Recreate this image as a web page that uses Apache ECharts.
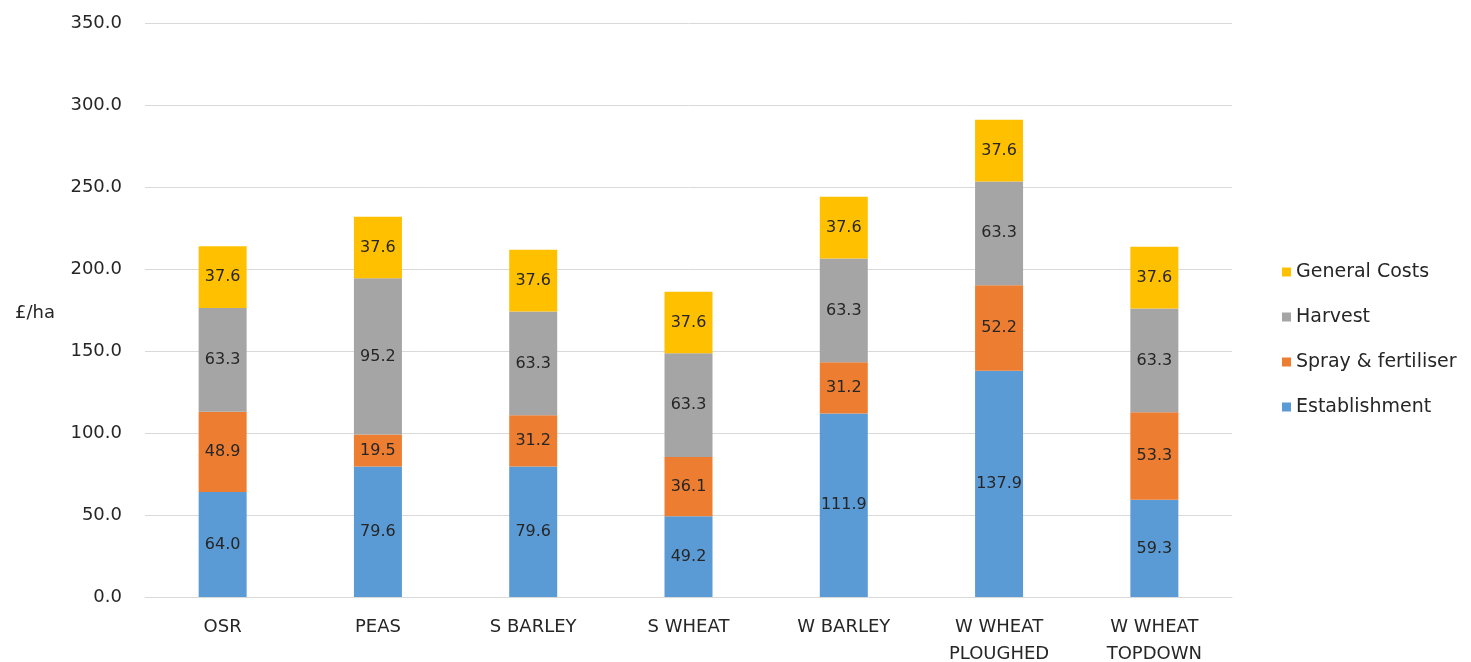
<!DOCTYPE html>
<html>
<head>
<meta charset="utf-8">
<script src="https://cdn.jsdelivr.net/npm/echarts@6/dist/echarts.min.js"></script>
<style>html,body{margin:0;padding:0;background:#fff;}#c{width:1471px;height:662px;}</style>
</head>
<body>
<div id="c"></div>
<script>
const categories = ['OSR', 'PEAS', 'S BARLEY', 'S WHEAT', 'W BARLEY', 'W WHEAT\nPLOUGHED', 'W WHEAT\nTOPDOWN'];
const establishment = [64.0, 79.6, 79.6, 49.2, 111.9, 137.9, 59.3];
const sprayFertiliser = [48.9, 19.5, 31.2, 36.1, 31.2, 52.2, 53.3];
const harvest = [63.3, 95.2, 63.3, 63.3, 63.3, 63.3, 63.3];
const generalCosts = [37.6, 37.6, 37.6, 37.6, 37.6, 37.6, 37.6];
const yTicks = [0, 50, 100, 150, 200, 250, 300, 350];

const FONT = '"DejaVu Sans", sans-serif';
const TXT = '#262626';
const chart = echarts.init(document.getElementById('c'), null, {renderer: 'canvas'});
const mk = (name, data, color) => ({
  name, type: 'bar', stack: 'total', data, barWidth: 48,
  itemStyle: {color},
  label: {show: true, position: 'inside', color: TXT, fontSize: 16, fontFamily: FONT,
          formatter: p => p.value.toFixed(1)}
});
chart.setOption({
  animation: false,
  backgroundColor: '#fff',
  title: {text: '£/ha', left: 10, top: 299, textStyle: {fontSize: 18, fontWeight: 'normal', color: TXT, fontFamily: FONT}},
  grid: {left: 145, right: 239, top: 23, bottom: 65, outerBoundsMode: 'none', containLabel: false},
  legend: {
    orient: 'vertical', left: 1277, top: 257, itemGap: 25, itemWidth: 9, itemHeight: 9,
    icon: 'rect',
    data: ['General Costs', 'Harvest', 'Spray & fertiliser', 'Establishment'],
    textStyle: {fontSize: 19, lineHeight: 20, color: TXT, fontFamily: FONT}
  },
  xAxis: {
    type: 'category', data: categories,
    axisTick: {show: false},
    axisLine: {lineStyle: {color: '#d9d9d9'}},
    axisLabel: {color: TXT, fontSize: 18, fontFamily: FONT, margin: 17, lineHeight: 27, interval: 0}
  },
  yAxis: {
    type: 'value', min: yTicks[0], max: yTicks[yTicks.length - 1], interval: 50,
    axisLine: {show: false}, axisTick: {show: false},
    splitLine: {lineStyle: {color: '#d9d9d9'}},
    axisLabel: {color: TXT, fontSize: 18, fontFamily: FONT, margin: 23, formatter: v => v.toFixed(1)}
  },
  series: [
    mk('Establishment', establishment, '#5B9BD5'),
    mk('Spray & fertiliser', sprayFertiliser, '#ED7D31'),
    mk('Harvest', harvest, '#A5A5A5'),
    mk('General Costs', generalCosts, '#FFC000')
  ]
});
</script>
</body>
</html>
